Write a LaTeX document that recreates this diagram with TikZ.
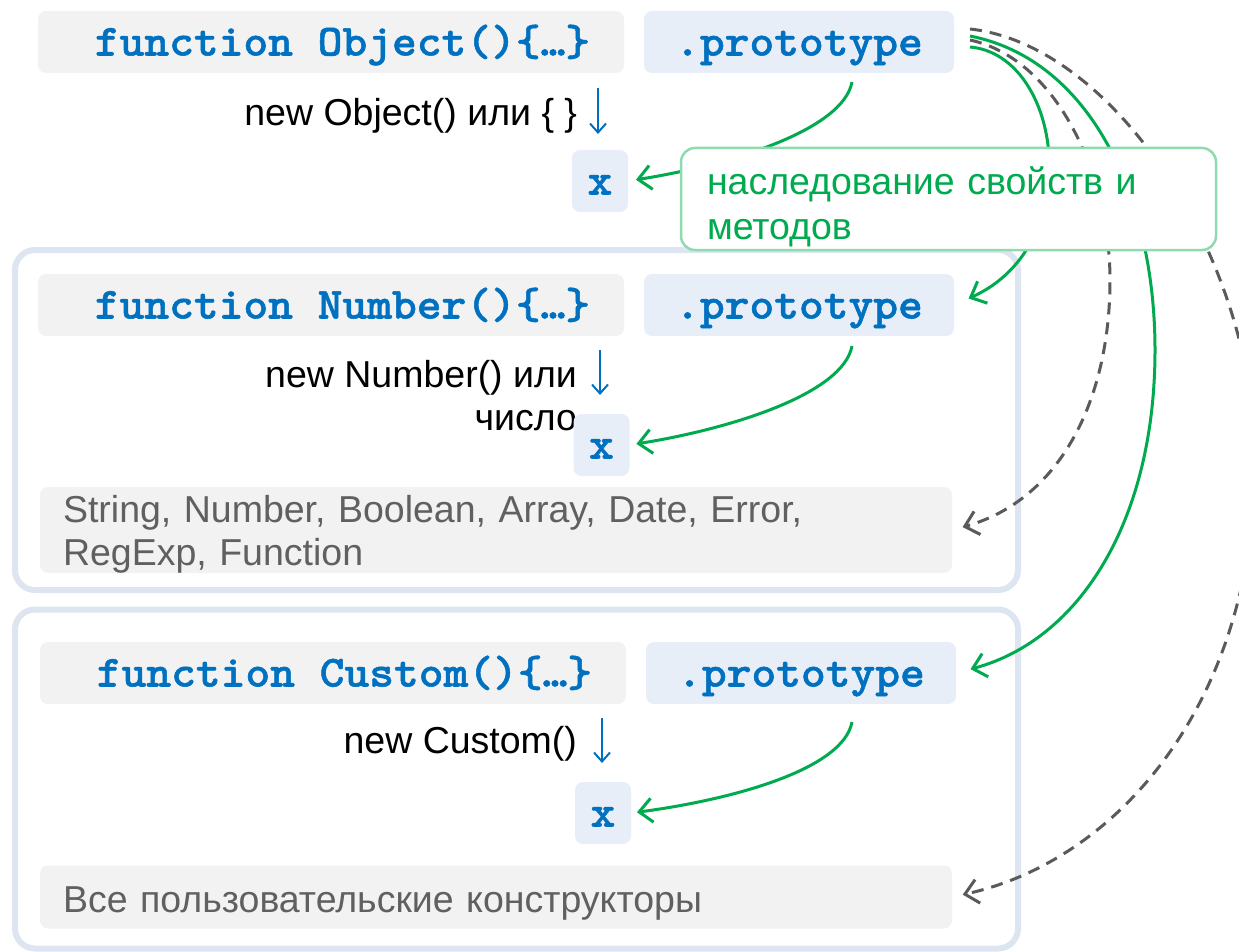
\documentclass[tikz,border=0pt]{standalone}
\usepackage{fontspec}
\setmainfont{Liberation Sans}
\newfontfamily\codefont{lmmonolt10-bold.otf}[FakeStretch=1.06,FakeBold=1.2]
\usetikzlibrary{arrows.meta,calc}
\definecolor{codeblue}{HTML}{0070C0}
\definecolor{fnfill}{HTML}{F2F2F2}
\definecolor{protofill}{HTML}{E7EEF7}
\definecolor{grpline}{HTML}{DDE5F0}
\definecolor{inhgreen}{HTML}{00AA4E}
\definecolor{callline}{HTML}{8FDAAE}
\definecolor{dashgray}{HTML}{5A5A5A}
\definecolor{listtext}{HTML}{606060}
\begin{document}
\begin{tikzpicture}[x=1pt,y=-1pt,
  every node/.style={inner sep=0pt,outer sep=0pt},
  codetext/.style={font=\codefont\fontsize{44.5}{50}\selectfont,text=codeblue,text height=27pt,text depth=0pt},
  fnbox/.style={codetext,fill=fnfill,rounded corners=8pt,minimum width=586pt,minimum height=62pt},
  protobox/.style={codetext,fill=protofill,rounded corners=8pt,minimum width=310pt,minimum height=62pt},
  xbox/.style={codetext,fill=protofill,rounded corners=8pt,minimum width=56pt,minimum height=62pt},
  lbl/.style={font=\fontsize{37.5}{43}\selectfont,text=black},
  listbox/.style={fill=fnfill,rounded corners=8pt,inner xsep=23pt,text width=866pt,align=left,
    font=\fontsize{37.5}{43}\selectfont,text=listtext},
  grp/.style={draw=grpline,line width=6pt,rounded corners=20pt,minimum width=1003pt},
  callbox/.style={draw=callline,line width=2.5pt,fill=white,rounded corners=14pt,inner xsep=26pt,
    text width=483pt,align=left,minimum height=102pt,font=\fontsize{37.5}{45}\selectfont,text=inhgreen},
  garrow/.style={draw=inhgreen,line width=3pt,-{Straight Barb[length=13pt,width=24pt]}},
  gdash/.style={draw=dashgray,line width=3pt,dash pattern=on 12pt off 8pt,-{Straight Barb[length=13pt,width=24pt]}},
  newarrow/.style={draw=codeblue,line width=2pt,-{Straight Barb[length=9pt,width=16pt]}}
]
\useasboundingbox (0,0) rectangle (1239,952);
\begin{scope}
\clip (0,0) rectangle (1239,952);
% group frames
\node[grp,minimum height=340pt] (gnum) at (516.5,420) {};
\node[grp,minimum height=339pt] (gcus) at (516.5,779) {};
% Object
\node[fnbox] (f1) at (331,42) {\hspace*{23pt}function Object()\{…\}};
\node[protobox] (p1) at (799,42) {.prototype};
\node[lbl,anchor=base east] (l1) at (577,126) {new Object() или \{ \}};
\coordinate (a1s) at (598,88);
\coordinate (a1e) at (598,134);
\draw[newarrow] (a1s) -- (a1e);
\node[xbox] (x1) at (600,181) {x};
% Number
\node[fnbox] (f2) at (331,305) {\hspace*{23pt}function Number()\{…\}};
\node[protobox] (p2) at (799,305) {.prototype};
\node[lbl,anchor=north east,align=right] (l2) at (577,360) {new Number() или\\число};
\coordinate (a2s) at (600,350);
\coordinate (a2e) at (600,395);
\draw[newarrow] (a2s) -- (a2e);
\node[xbox] (x2) at (601.5,445) {x};
\node[listbox,minimum height=86pt] (list1) at (496,530) {\rule{0pt}{35pt}String, Number, Boolean, Array, Date, Error,\\RegExp, Function};
% Custom
\node[fnbox] (f3) at (333,673) {\hspace*{23pt}function Custom()\{…\}};
\node[protobox] (p3) at (801,673) {.prototype};
\node[lbl,anchor=base east] (l3) at (577,753) {new Custom()};
\coordinate (a3s) at (602,718);
\coordinate (a3e) at (602,763);
\draw[newarrow] (a3s) -- (a3e);
\node[xbox] (x3) at (603,813) {x};
\node[listbox,minimum height=63pt] (list2) at (496,897) {\rule{0pt}{38pt}Все пользовательские конструкторы};
% connector start points
\coordinate (o1) at (852,82);
\coordinate (o2) at (852,346);
\coordinate (o3) at (852,722);
\coordinate (s4) at (970,47);
\coordinate (s5) at (970,36);
\coordinate (s6) at (970,40);
\coordinate (s7) at (970,29);
% inheritance arrows
\draw[garrow,shorten >=8pt] (o1) .. controls (843,130) and (730,165) .. (x1.east);
\draw[garrow,shorten >=7pt] (o2) .. controls (843,394) and (730,429) .. (x2.east);
\draw[garrow,shorten >=6pt] (o3) .. controls (843,770) and (730,800) .. (x3.east);
\draw[garrow,shorten >=16pt] (s4) .. controls (1062,55) and (1088,245) .. (p2.east);
\draw[garrow,shorten >=15pt] (s5) .. controls (1092,60) and (1155,200) .. (1155,350) .. controls (1155,520) and (1080,640) .. (p3.east);
\draw[gdash,shorten >=11pt] (s6) .. controls (1060,60) and (1110,180) .. (1110,280) .. controls (1110,400) and (1060,500) .. (list1.east);
\draw[gdash,shorten >=11pt] (s7) .. controls (1115,45) and (1255,260) .. (1255,460) .. controls (1255,700) and (1120,860) .. (list2.east);
% callout
\node[callbox] (note) at (948.5,199) {\rule{0pt}{43pt}наследование свойств и\\методов};
\end{scope}
\end{tikzpicture}
\end{document}
